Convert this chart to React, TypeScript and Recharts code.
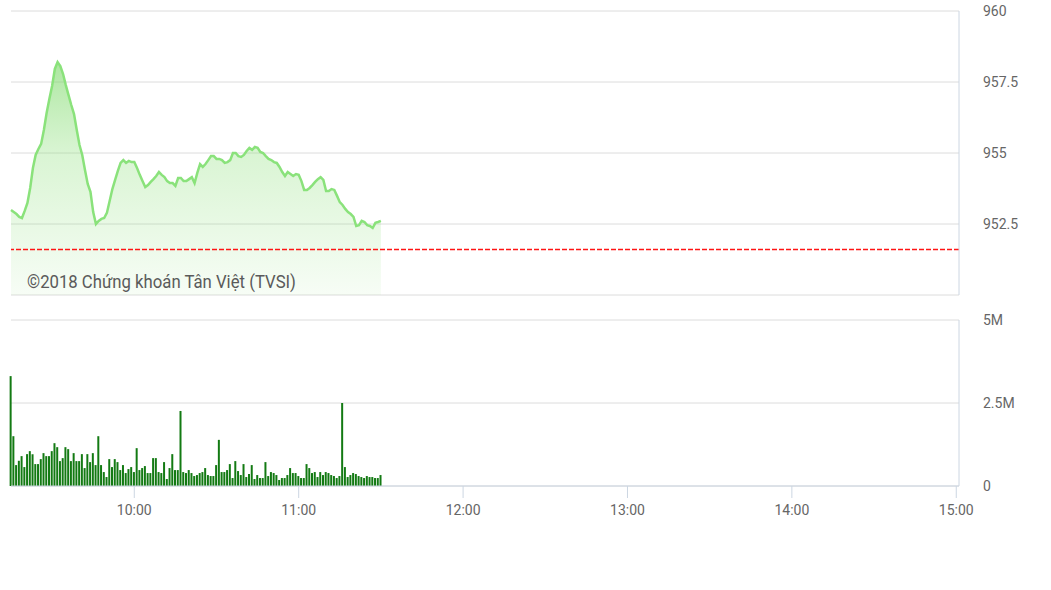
import React from 'react';
import {
  AreaChart,
  Area,
  BarChart,
  Bar,
  XAxis,
  YAxis,
  CartesianGrid,
  ReferenceLine,
} from 'recharts';

// session starts 9:15, one point per minute until 11:30
const START_MINUTE = 9 * 60 + 15;

const prices: number[] = [
  952.99, 952.92, 952.85, 952.75, 952.71, 952.96, 953.24, 953.77, 954.47, 954.93,
  955.14, 955.32, 955.81, 956.41, 956.9, 957.36, 957.96, 958.2, 958.06, 957.78,
  957.39, 957.04, 956.69, 956.37, 955.81, 955.28, 954.93, 954.4, 953.91, 953.63,
  952.92, 952.5, 952.61, 952.68, 952.71, 952.89, 953.31, 953.73, 954.05, 954.37,
  954.65, 954.75, 954.65, 954.72, 954.68, 954.68, 954.47, 954.23, 954.01, 953.8,
  953.87, 953.98, 954.08, 954.19, 954.33, 954.23, 954.15, 954.01, 953.94, 953.94,
  953.84, 954.12, 954.12, 954.01, 954.01, 954.08, 954.15, 953.94, 954.3, 954.61,
  954.51, 954.61, 954.75, 954.89, 954.89, 954.79, 954.79, 954.75, 954.65, 954.68,
  954.75, 955.0, 955.0, 954.89, 954.86, 954.93, 955.07, 955.18, 955.11, 955.21,
  955.18, 955.04, 955.0, 954.89, 954.79, 954.75, 954.68, 954.65, 954.51, 954.33,
  954.19, 954.33, 954.26, 954.19, 954.26, 954.23, 954.01, 953.7, 953.7, 953.77,
  953.87, 953.98, 954.08, 954.15, 954.05, 953.66, 953.66, 953.73, 953.7, 953.49,
  953.27, 953.17, 953.03, 952.92, 952.85, 952.75, 952.43, 952.46, 952.61, 952.57,
  952.46, 952.43, 952.36, 952.54, 952.57, 952.61,
];

// volume in millions of shares
const volumes: number[] = [
  3.31, 1.5, 0.63, 0.76, 0.9, 0.57, 0.96, 1.05, 0.96, 0.66,
  0.66, 0.81, 0.99, 0.9, 0.9, 1.05, 1.29, 1.17, 0.75, 0.84,
  1.17, 1.11, 0.75, 0.99, 0.75, 0.75, 0.96, 0.54, 0.96, 0.72,
  0.99, 0.63, 1.5, 0.63, 0.42, 0.27, 0.81, 0.57, 0.81, 0.72,
  0.48, 0.63, 0.39, 0.51, 0.57, 0.42, 1.14, 0.48, 0.54, 0.6,
  0.39, 0.39, 0.84, 0.84, 0.42, 0.39, 0.72, 0.21, 0.54, 0.96,
  0.48, 0.48, 2.26, 0.42, 0.39,
  0.48, 0.39, 0.3, 0.33, 0.39, 0.42, 0.54, 0.33, 0.3, 0.3,
  0.63, 1.39, 0.42, 0.42, 0.48, 0.66, 0.24, 0.75, 0.45, 0.33,
  0.66, 0.27, 0.36, 0.63, 0.21, 0.33, 0.24, 0.24, 0.72, 0.3,
  0.42, 0.39, 0.33, 0.18, 0.24, 0.24, 0.33, 0.54, 0.39, 0.39,
  0.3, 0.24, 0.24, 0.66, 0.54, 0.39, 0.42, 0.27, 0.42, 0.33,
  0.42, 0.39, 0.33, 0.3, 0.24, 0.3, 2.5, 0.57, 0.27, 0.33,
  0.39, 0.36, 0.3, 0.27, 0.24, 0.3, 0.27, 0.27, 0.24, 0.24,
  0.33,
];

const referencePrice = 951.6;
const priceTicks = [950, 952.5, 955, 957.5, 960];
const volumeTicks = [0, 2.5, 5];
const timeTicks = [600, 660, 720, 780, 840, 900];
const timeDomain = [START_MINUTE, 901];

const data = prices.map((price, i) => ({
  t: START_MINUTE + i,
  price,
  volume: volumes[i],
}));

const fmtTime = (m: number) => `${Math.floor(m / 60)}:${String(m % 60).padStart(2, '0')}`;
const fmtVolume = (v: number) => (v === 0 ? '0' : `${v}M`);

const tickStyle = { fill: '#666', fontSize: 14, fontFamily: 'Roboto' };
const borderColor = '#ccd6e2';

const App: React.FC = () => {
  return (
    <div
      style={{
        position: 'absolute',
        left: 0,
        top: 0,
        width: 1051,
        height: 590,
        background: '#fff',
        fontFamily: 'Roboto',
      }}
    >
      <div style={{ position: 'absolute', left: 0, top: 0 }}>
        <AreaChart
          width={1051}
          height={300}
          data={data}
          margin={{ top: 11, right: 0, bottom: 5, left: 11 }}
        >
          <defs>
            <linearGradient id="priceFill" x1="0" y1="0" x2="0" y2="1">
              <stop offset="0%" stopColor="#74d660" stopOpacity={1} />
              <stop offset="40%" stopColor="#8ee07c" stopOpacity={0.55} />
              <stop offset="100%" stopColor="#8ee07c" stopOpacity={0.12} />
            </linearGradient>
          </defs>
          <CartesianGrid vertical={false} stroke="#dcdcdc" />
          <XAxis hide type="number" dataKey="t" domain={timeDomain} ticks={timeTicks} />
          <YAxis
            orientation="right"
            width={92}
            domain={[950, 960]}
            ticks={priceTicks}
            tick={tickStyle}
            tickLine={false}
            tickSize={0}
            tickMargin={24}
            axisLine={{ stroke: borderColor }}
          />
          <Area
            type="linear"
            dataKey="price"
            stroke="#8ae27b"
            strokeWidth={2.5}
            fill="url(#priceFill)"
            isAnimationActive={false}
            dot={false}
            activeDot={false}
          />
          <ReferenceLine
            y={referencePrice}
            stroke="#ff1414"
            strokeDasharray="5 2"
            strokeWidth={1.6}
          />
        </AreaChart>
      </div>
      <div
        style={{
          position: 'absolute',
          left: 27,
          top: 270,
          fontSize: 19,
          lineHeight: '24px',
          color: '#5a5a5a',
          whiteSpace: 'nowrap',
          transform: 'scaleX(0.88)',
          transformOrigin: 'left top',
        }}
      >
        ©2018 Chứng khoán Tân Việt (TVSI)
      </div>
      <div style={{ position: 'absolute', left: 0, top: 300 }}>
        <BarChart
          width={1051}
          height={240}
          data={data}
          margin={{ top: 20, right: 0, bottom: 0, left: 11 }}
        >
          <CartesianGrid vertical={false} stroke="#dcdcdc" />
          <XAxis
            type="number"
            dataKey="t"
            domain={timeDomain}
            ticks={timeTicks}
            tickFormatter={fmtTime}
            height={54}
            tick={tickStyle}
            tickSize={12}
            tickMargin={7}
            axisLine={{ stroke: borderColor }}
            tickLine={{ stroke: borderColor }}
          />
          <YAxis
            orientation="right"
            width={92}
            domain={[0, 5]}
            ticks={volumeTicks}
            tickFormatter={fmtVolume}
            tick={tickStyle}
            tickLine={false}
            tickSize={0}
            tickMargin={24}
            axisLine={{ stroke: borderColor }}
          />
          <Bar dataKey="volume" fill="#137a13" barSize={2} isAnimationActive={false} />
        </BarChart>
      </div>
    </div>
  );
};

export default App;
